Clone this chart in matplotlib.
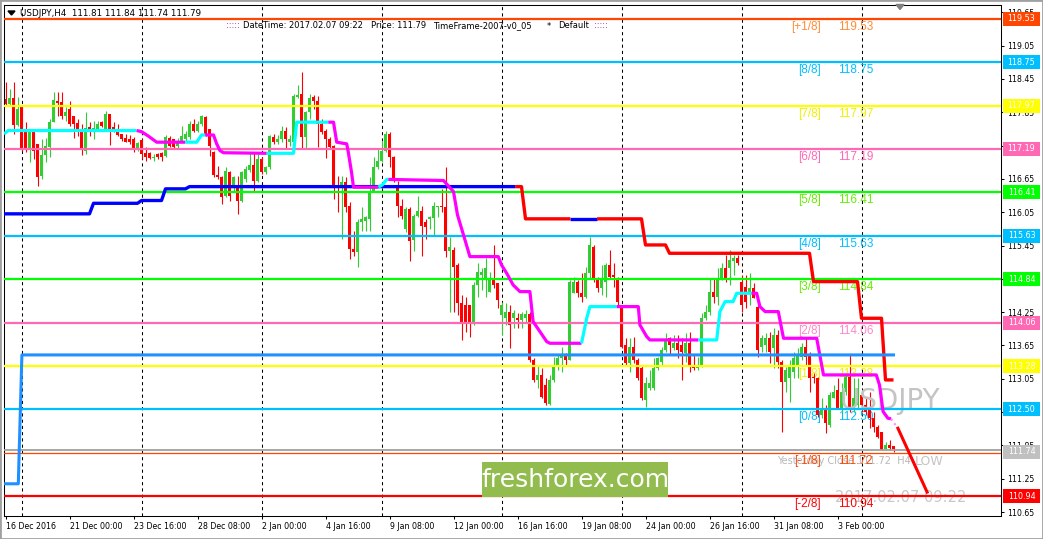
import numpy as np
import matplotlib.pyplot as plt
from matplotlib import transforms
from matplotlib.patches import Rectangle, Polygon

W, H = 1043, 539
plt.rcParams['font.family'] = 'DejaVu Sans'

# USDJPY H4 bars, 16 Dec 2016 .. 7 Feb 2017
opens = [
    118.09, 118.00, 118.10, 117.62, 117.94, 117.55, 117.19, 117.49, 117.28, 116.71,
    117.08, 117.22, 117.67, 118.05, 118.03, 117.78, 117.91, 117.78, 117.66, 117.55,
    117.16, 117.58, 117.52, 117.55, 117.68, 117.55, 117.82, 117.58, 117.49, 117.46,
    117.39, 117.37, 117.37, 117.18, 117.35, 117.12, 117.11, 117.03, 117.10, 117.11,
    117.07, 117.39, 117.37, 117.24, 117.34, 117.37, 117.40, 117.64, 117.52, 117.64,
    117.76, 117.54, 117.13, 116.72, 116.68, 116.34, 116.77, 116.53, 116.53, 116.26,
    116.65, 116.81, 116.90, 116.62, 117.01, 116.77, 116.86, 117.40, 117.31, 117.36,
    117.52, 117.31, 117.31, 118.12, 118.18, 117.40, 117.85, 118.12, 118.06, 117.64,
    117.52, 117.37, 117.24, 116.54, 116.53, 116.59, 116.17, 115.39, 115.34, 115.87,
    115.90, 115.93, 116.44, 116.86, 116.98, 117.16, 117.46, 117.04, 116.50, 116.17,
    115.75, 116.11, 115.55, 115.99, 116.08, 115.87, 115.93, 115.94, 116.14, 116.17,
    116.14, 115.35, 115.37, 115.10, 114.41, 114.38, 114.38, 114.05, 114.74, 114.92,
    114.86, 114.62, 114.86, 114.77, 114.20, 114.14, 114.26, 114.14, 114.15, 114.11,
    114.15, 114.21, 113.39, 113.03, 113.12, 112.94, 112.59, 113.03, 113.27, 113.42,
    113.48, 113.39, 114.59, 114.80, 114.59, 114.53, 114.95, 115.43, 114.86, 114.68,
    114.80, 115.10, 114.92, 114.86, 114.35, 113.66, 113.33, 113.63, 113.39, 113.24,
    112.67, 112.88, 112.88, 113.24, 113.36, 113.57, 113.78, 113.60, 113.69, 113.66,
    113.51, 113.69, 113.30, 113.24, 113.27, 114.14, 114.26, 114.62, 114.53, 114.86,
    115.04, 115.04, 115.17, 115.23, 114.80, 114.71, 114.59, 114.68, 114.35, 113.63,
    113.66, 113.78, 113.60, 113.84, 113.36, 113.00, 113.06, 113.18, 113.30, 113.45,
    113.63, 113.48, 113.09, 113.06, 112.40, 112.52, 112.22, 112.70, 112.85, 112.52,
    112.82, 113.09, 112.52, 112.58, 112.76, 112.58, 112.52, 112.34, 112.19, 112.10,
    111.79, 111.86, 111.84]
highs = [
    118.40, 118.27, 118.40, 118.12, 117.97, 117.67, 117.55, 117.49, 117.28, 117.37,
    117.38, 117.73, 118.21, 118.21, 118.21, 117.94, 118.06, 117.79, 117.73, 117.64,
    117.85, 117.67, 117.70, 117.70, 117.70, 117.88, 117.82, 117.67, 117.64, 117.46,
    117.46, 117.44, 117.40, 117.31, 117.37, 117.22, 117.13, 117.10, 117.11, 117.13,
    117.44, 117.43, 117.37, 117.38, 117.61, 117.52, 117.70, 117.73, 117.70, 117.80,
    117.79, 117.55, 117.16, 116.89, 116.71, 116.86, 116.80, 116.71, 116.71, 116.80,
    116.89, 117.13, 117.13, 117.10, 117.04, 116.89, 117.44, 117.46, 117.44, 117.61,
    117.58, 117.44, 118.18, 118.34, 118.58, 117.88, 118.18, 118.16, 118.15, 117.73,
    117.55, 117.40, 117.26, 116.71, 116.71, 116.68, 116.23, 115.72, 115.93, 116.14,
    115.99, 116.68, 117.04, 117.19, 117.34, 117.52, 117.49, 117.07, 116.62, 116.29,
    116.14, 116.14, 116.02, 116.35, 116.17, 115.93, 115.99, 116.23, 116.17, 116.47,
    116.86, 115.61, 115.43, 115.13, 114.56, 114.53, 114.38, 114.80, 115.13, 115.04,
    115.22, 114.98, 115.46, 114.77, 114.44, 114.41, 114.38, 114.29, 114.23, 114.26,
    114.29, 114.26, 113.42, 113.30, 113.24, 113.06, 113.12, 113.45, 113.48, 113.63,
    113.51, 114.83, 114.89, 114.83, 114.95, 115.07, 115.61, 115.46, 114.89, 115.10,
    115.13, 115.37, 115.13, 114.89, 114.38, 113.78, 113.78, 113.81, 113.42, 113.30,
    113.09, 113.21, 113.42, 113.45, 113.63, 113.87, 113.81, 113.84, 113.84, 113.78,
    113.87, 113.90, 113.48, 113.45, 114.23, 114.38, 114.86, 114.86, 115.04, 115.13,
    115.28, 115.37, 115.28, 115.28, 114.92, 114.92, 114.95, 114.77, 114.38, 113.84,
    113.87, 113.90, 113.96, 113.93, 113.39, 113.27, 113.39, 113.54, 113.60, 113.69,
    113.78, 113.54, 113.15, 113.09, 112.70, 112.58, 112.82, 112.94, 113.06, 112.97,
    113.12, 113.48, 113.06, 113.06, 112.82, 112.70, 112.82, 112.46, 112.22, 112.10,
    111.92, 111.95, 111.84]
lows = [
    117.97, 117.97, 117.46, 117.61, 117.16, 117.14, 116.95, 117.01, 116.53, 116.65,
    116.95, 117.04, 117.67, 117.79, 117.73, 117.70, 117.61, 117.39, 117.43, 117.08,
    117.10, 117.43, 117.37, 117.52, 117.58, 117.55, 117.26, 117.49, 117.42, 117.34,
    117.31, 117.28, 117.14, 117.16, 117.01, 116.98, 117.01, 116.98, 117.01, 116.98,
    117.04, 117.22, 117.19, 117.20, 117.31, 117.34, 117.37, 117.50, 117.49, 117.61,
    117.43, 117.07, 116.68, 116.65, 116.20, 116.32, 116.26, 116.41, 116.02, 116.23,
    116.59, 116.77, 116.44, 116.59, 116.74, 116.74, 116.83, 117.28, 117.28, 117.31,
    117.20, 117.25, 117.30, 118.10, 117.20, 117.20, 117.73, 117.91, 117.22, 117.46,
    117.03, 117.19, 116.29, 116.05, 115.57, 116.05, 115.21, 115.27, 115.06, 115.72,
    115.72, 115.72, 116.41, 116.83, 116.95, 117.13, 116.86, 116.59, 115.96, 115.93,
    115.69, 115.18, 115.36, 115.96, 115.27, 115.57, 115.75, 115.63, 115.96, 116.05,
    115.24, 114.26, 114.26, 114.20, 113.75, 113.90, 113.81, 114.02, 114.53, 114.65,
    114.53, 114.62, 114.68, 114.32, 113.84, 114.02, 113.60, 113.96, 113.96, 113.96,
    114.08, 113.36, 113.00, 112.88, 112.70, 112.58, 112.58, 113.00, 113.21, 113.18,
    113.30, 113.39, 114.59, 114.53, 114.44, 114.50, 114.86, 114.80, 114.62, 114.56,
    114.53, 114.86, 114.71, 114.38, 113.60, 113.30, 113.18, 113.33, 113.03, 112.67,
    112.55, 112.85, 112.85, 113.21, 113.30, 113.54, 113.48, 113.57, 113.42, 113.03,
    113.36, 113.18, 113.21, 113.21, 113.27, 114.11, 114.20, 114.41, 114.38, 114.83,
    114.80, 114.74, 114.92, 115.10, 114.26, 114.32, 114.38, 114.50, 113.45, 113.54,
    113.54, 113.33, 113.24, 113.24, 112.10, 112.82, 112.64, 113.06, 113.06, 113.39,
    113.30, 112.82, 112.97, 112.37, 112.34, 112.07, 112.19, 112.70, 112.52, 112.46,
    112.76, 112.46, 112.46, 112.52, 112.46, 112.40, 112.16, 112.10, 111.98, 111.77,
    111.77, 111.77, 111.74]
closes = [
    118.00, 118.10, 117.62, 117.91, 117.19, 117.19, 117.49, 117.16, 116.68, 117.08,
    117.24, 117.67, 118.07, 118.02, 117.78, 117.86, 117.64, 117.64, 117.54, 117.18,
    117.56, 117.55, 117.56, 117.64, 117.61, 117.82, 117.55, 117.52, 117.44, 117.37,
    117.32, 117.31, 117.18, 117.30, 117.10, 117.04, 117.02, 117.05, 117.04, 117.04,
    117.40, 117.25, 117.22, 117.34, 117.43, 117.46, 117.64, 117.52, 117.64, 117.79,
    117.46, 117.25, 116.72, 116.68, 116.32, 116.80, 116.35, 116.68, 116.26, 116.77,
    116.83, 116.90, 116.62, 117.01, 116.77, 116.86, 117.42, 117.31, 117.36, 117.52,
    117.36, 117.37, 118.14, 118.16, 117.40, 117.85, 118.10, 118.06, 117.64, 117.50,
    117.37, 117.22, 116.50, 116.50, 116.59, 116.14, 115.39, 115.34, 115.87, 115.93,
    115.96, 116.44, 116.86, 116.98, 117.16, 117.46, 117.04, 116.62, 116.17, 115.99,
    116.11, 115.54, 115.99, 116.08, 115.81, 115.78, 115.96, 116.17, 116.17, 116.14,
    115.36, 115.43, 115.07, 114.41, 114.05, 114.05, 114.05, 114.74, 114.98, 114.98,
    115.04, 114.83, 114.74, 114.47, 114.38, 114.26, 114.02, 114.23, 114.11, 114.21,
    114.21, 113.39, 113.03, 113.12, 112.73, 112.61, 113.03, 113.27, 113.42, 113.48,
    113.39, 114.80, 114.80, 114.59, 114.53, 114.95, 115.46, 114.86, 114.68, 114.83,
    115.10, 114.89, 114.89, 114.44, 113.63, 113.33, 113.63, 113.39, 113.06, 112.70,
    112.97, 112.97, 113.24, 113.42, 113.57, 113.75, 113.66, 113.69, 113.57, 113.54,
    113.69, 113.27, 113.24, 113.27, 114.14, 114.26, 114.62, 114.53, 114.86, 115.04,
    114.86, 115.19, 115.23, 115.13, 114.38, 114.44, 114.68, 114.50, 113.57, 113.78,
    113.78, 113.54, 113.84, 113.36, 113.00, 113.21, 113.30, 113.42, 113.48, 113.63,
    113.45, 113.06, 113.06, 112.40, 112.52, 112.25, 112.76, 112.82, 112.52, 112.82,
    113.09, 112.52, 112.70, 112.88, 112.58, 112.46, 112.34, 112.19, 112.01, 111.77,
    111.86, 111.81, 111.79]

# Murrey math levels
mm_levels = [119.53, 118.75, 117.97, 117.19, 116.41, 115.63, 114.84, 114.06, 113.28, 112.50, 111.72, 110.94]
mm_names = ['[+1/8]', '[8/8]', '[7/8]', '[6/8]', '[5/8]', '[4/8]', '[3/8]', '[2/8]', '[1/8]', '[0/8]', '[-1/8]', '[-2/8]']
mm_colors = ['#FF4500', '#00BFFF', '#FFFF00', '#FF69B4', '#00FF00', '#00BFFF',
             '#00FF00', '#FF69B4', '#FFFF00', '#00BFFF', '#FF4500', '#FF0000']
mm_text_colors = ['#FF8C33', '#00BFFF', '#F0F000', '#FF69B4', '#66EE00', '#00BFFF',
                  '#66EE00', '#FF88C8', '#F0F000', '#00BFFF', '#FF4500', '#FF0000']

# stepped trailing stop line (bar, price)
stop_x = [-0.4, 21, 22, 33, 34, 39, 40, 45, 46, 129, 130, 159, 160, 165, 166, 201, 202, 213, 214, 219, 220, 222]
stop_y = [116.02, 116.02, 116.21, 116.21, 116.26, 116.26, 116.47, 116.47, 116.51, 116.51, 115.93, 115.93,
          115.46, 115.46, 115.31, 115.31, 114.80, 114.80, 114.14, 114.14, 113.03, 113.03]
stop_split = [-0.4, 127.4, 141.2, 147.9, 222]
stop_cols = ['#0000FF', '#FF0000', '#0000FF', '#FF0000']

# cyan / magenta trend line (bar, price), colour per segment
trend_x = [-0.4, 0.7, 32.8, 34.0, 35.7, 37.8, 44.9, 47.8, 49.0, 49.9, 52.0, 52.8, 53.6, 54.5,
           65.3, 72.0, 72.8, 80.7, 82.0, 82.8, 85.3, 85.7, 86.5, 87.0, 93.2, 94.2, 95.3, 95.7,
           109.5, 112.0, 113.0, 114.5, 116.1, 123.2, 124.0, 125.3, 126.9, 128.6, 131.1, 131.9,
           133.6, 135.3, 136.1, 144.0, 145.3, 146.1, 152.8, 158.2, 158.6, 160.3, 161.1, 173.2,
           177.8, 178.6, 179.9, 181.9, 182.8, 186.5, 187.8, 188.6, 189.9, 193.2, 194.5, 202.8,
           204.5, 217.7, 218.5, 219.4, 220.6, 221.4]
trend_y = [117.46, 117.52, 117.52, 117.50, 117.42, 117.31, 117.31, 117.31, 117.44, 117.44, 117.44,
           117.28, 117.16, 117.12, 117.11, 117.11, 117.67, 117.67, 117.67, 117.31, 117.28, 117.13,
           116.77, 116.50, 116.50, 116.54, 116.64, 116.64, 116.62, 116.42, 116.00, 115.64, 115.25,
           115.25, 115.10, 114.95, 114.74, 114.62, 114.62, 114.08, 113.90, 113.72, 113.69, 113.69,
           114.14, 114.35, 114.35, 114.35, 114.02, 113.81, 113.75, 113.75, 113.75, 114.26, 114.44,
           114.44, 114.59, 114.59, 114.59, 114.35, 114.26, 114.26, 113.78, 113.78, 113.12, 113.12,
           112.94, 112.46, 112.34, 112.33]
trend_c = 'cc' + 'mmmm' + 'ccc' + 'mmmmm' + 'ccc' + 'mmmmmmm' + 'ccc' + 'm' * 16 + 'ccc' + 'mmmmm' + 'cccccc' + 'm' * 12

# blue pivot line and projection
pivot_x = [-0.4, 3.2, 4.1, 222]
pivot_y = [111.16, 111.16, 113.48, 113.48]
proj_x = [223.1, 230.4]
proj_y = [112.16, 111.01]

bid_price = 111.77
bid_label = '111.74'

yticks = [110.65, 111.25, 111.85, 112.45, 113.05, 113.65, 114.25, 114.85, 115.45,
          116.05, 116.65, 117.25, 117.85, 118.45, 119.05, 119.65]
xtick_bars = [0, 16, 32, 48, 64, 80, 96, 112, 128, 144, 160, 176, 192, 208]
xtick_labels = ['16 Dec 2016', '21 Dec 00:00', '23 Dec 16:00', '28 Dec 08:00', '2 Jan 00:00',
                '4 Jan 16:00', '9 Jan 08:00', '12 Jan 00:00', '16 Jan 16:00', '19 Jan 08:00',
                '24 Jan 00:00', '26 Jan 16:00', '31 Jan 08:00', '3 Feb 00:00']
week_starts = [4, 34, 64, 94, 124, 154, 184, 214]


def fx(p):
    return p / W


def fy(p):
    return 1 - p / H


fig = plt.figure(figsize=(W / 100, H / 100), dpi=100)
ax = fig.add_axes([fx(4), fy(516), 997 / W, 511 / H])
ax.set_autoscale_on(False)

o = np.array(opens)
h = np.array(highs)
l = np.array(lows)
c = np.array(closes)
x = np.arange(len(c))
up = c >= o
cols = np.where(up, '#32CD32', '#FF0000')

# weekly separators
for w in week_starts:
    ax.axvline(w, color='black', lw=0.75, ls=(0, (3, 3)), zorder=1)

# murrey levels
for lvl, col in zip(mm_levels, mm_colors):
    lw = 0.9 if lvl == 111.72 else 1.6
    ax.axhline(lvl, color=col, lw=lw, zorder=3)
ax.axhline(bid_price, color='#A0A0A0', lw=1.3, zorder=3)

for lvl, name, tc in zip(mm_levels, mm_names, mm_text_colors):
    ax.annotate(name, (203.9, lvl), xytext=(0, -5.8), textcoords='offset points', ha='right',
                va='center', color=tc, fontsize=8.5, family='Liberation Sans', zorder=1.5)
    ax.annotate('%.2f' % lvl, (208.1, lvl), xytext=(0, -5.8), textcoords='offset points', ha='left',
                va='center', color=tc, fontsize=8.5, family='Liberation Sans', zorder=1.5)

# watermark texts
ax.text(208.6, 112.65, 'USDJPY', fontsize=20, color='#C4C4C4', va='center', ha='left', zorder=2.2)
ax.text(227.4, 111.57, 'LOW', fontsize=9, color='#C4C4C4', va='center', ha='left', zorder=1)
ax.text(207.4, 110.92, '2017.02.07 09:22', fontsize=10.5, color='#C8C8C8', va='center', ha='left', zorder=1)
ax.text(192.9, 111.57, 'Yesterday Close 111.72  H4', fontsize=7, color='#B8B8B8', va='center', ha='left', zorder=1)

# candles
ax.vlines(x, l, h, colors=cols, lw=0.8, zorder=2)
body = np.maximum(np.abs(c - o), 0.02)
ax.bar(x, body, bottom=np.minimum(o, c), width=0.75, color=cols, lw=0, zorder=2)

# trailing stop line
for a, b, col in zip(stop_split[:-1], stop_split[1:], stop_cols):
    xs = [a] + [v for v in stop_x if a < v < b] + [b]
    ax.plot(xs, np.interp(xs, stop_x, stop_y), color=col, lw=2.4, zorder=4, solid_capstyle='butt')

# trend line
start = 0
for k in range(1, len(trend_c) + 1):
    if k == len(trend_c) or trend_c[k] != trend_c[start]:
        col = '#00FFFF' if trend_c[start] == 'c' else '#FF00FF'
        ax.plot(trend_x[start:k + 1], trend_y[start:k + 1], color=col, lw=2.3, zorder=4,
                solid_capstyle='butt')
        start = k
ax.plot([trend_x[-1], 222.8], [trend_y[-1], 112.19], color='#FF88FF', lw=1.5, ls=':', zorder=4)

ax.plot(pivot_x, pivot_y, color='#1E90FF', lw=2.2, zorder=4)
ax.plot(proj_x, proj_y, color='#FF0000', lw=2.2, zorder=4)

ax.yaxis.tick_right()
ax.set_yticks(yticks)
ax.set_yticklabels(['%.2f' % v for v in yticks])
ax.tick_params(axis='y', length=2.2, width=0.75, pad=2.5, labelsize=5.6, direction='out')
ax.set_xticks(xtick_bars)
ax.set_xticklabels(xtick_labels)
ax.tick_params(axis='x', length=2.2, width=0.75, pad=1.8, labelsize=5.7, direction='out')
for lab in ax.get_xticklabels():
    lab.set_ha('left')
for sp in ax.spines.values():
    sp.set_linewidth(0.75)
    sp.set_color('black')

# price boxes on the right axis
trans = transforms.blended_transform_factory(fig.transFigure, ax.transData)
box_h = 14 / 55.53
box_levels = [v for v in mm_levels if v != 111.72] + [float(bid_label)]
box_cols = [cc for v, cc in zip(mm_levels, mm_colors) if v != 111.72] + ['#C0C0C0']
for lvl, col in zip(box_levels, box_cols):
    ax.add_patch(Rectangle((fx(1003), lvl - box_h / 2), 37 / W, box_h, transform=trans,
                           facecolor=col, edgecolor='none', clip_on=False, zorder=6))
    ax.text(fx(1021.5), lvl, '%.2f' % lvl, transform=trans, ha='center', va='center',
            color='white', fontsize=5.8, clip_on=False, zorder=7)
ax.set_xlim(-0.375, 248.875)
ax.set_ylim(110.58, 119.78)

# header texts
fig.add_artist(Polygon([(fx(8), fy(11)), (fx(15), fy(11)), (fx(11.5), fy(15))], closed=True,
                       transform=fig.transFigure, color='black'))
fig.text(fx(20.5), fy(13), 'USDJPY,H4  111.81 111.84 111.74 111.79', fontsize=6.3, va='center')
hdr = [(226, ':::::', '#800080'), (243, 'DateTime: 2017.02.07 09:22', 'black'),
       (371, 'Price: 111.79', 'black'), (433, 'TimeFrame-2007-v0_05', 'black'),
       (547, '*', 'black'), (558, 'Default', 'black'), (594, ':::::', '#800080')]
for px, s, col in hdr:
    fig.text(fx(px), fy(26), s, fontsize=6, va='center', color=col)
fig.add_artist(Polygon([(fx(896), fy(4.5)), (fx(904), fy(4.5)), (fx(900), fy(9.5))], closed=True,
                       transform=fig.transFigure, color='#808080'))

# logo
fig.add_artist(Rectangle((fx(482), fy(497)), 186 / W, 35 / H, transform=fig.transFigure,
                         facecolor='#93BC4E', edgecolor='none'))
fig.text(fx(575), fy(480), 'freshforex.com', fontsize=18, color='white', ha='center', va='center')

# window frame
fig.add_artist(Rectangle((0, 0), 1, 1, transform=fig.transFigure, fill=False,
                         edgecolor='#A0A0A0', lw=2))

fig.savefig('out.png', dpi=100)
